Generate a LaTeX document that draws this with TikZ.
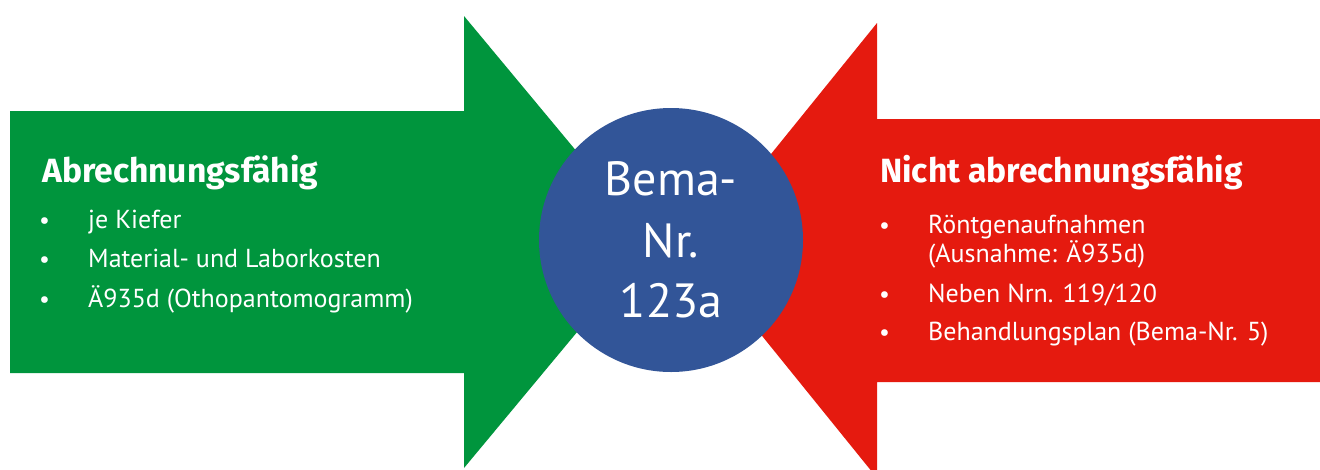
\documentclass[tikz,border=0pt]{standalone}
\usepackage{fontspec}
\setmainfont{PT Sans}
\newfontfamily\titlefont{Fira Sans}
\definecolor{arrgreen}{HTML}{00953D}
\definecolor{arrred}{HTML}{E51A0F}
\definecolor{circblue}{HTML}{325598}
\begin{document}
\begin{tikzpicture}[x=1pt,y=-1pt,
  ttl/.style={anchor=base west,text=white,inner sep=0pt,font=\titlefont\bfseries\fontsize{33.6}{38}\selectfont},
  itm/.style={anchor=base west,text=white,inner sep=0pt,font=\fontsize{26}{31}\selectfont},
  bul/.style={anchor=base west,text=white,inner sep=0pt,font=\fontsize{24}{29}\selectfont},
  ctr/.style={anchor=base,text=white,inner sep=0pt,font=\fontsize{48}{56}\selectfont}]
\useasboundingbox (0,0) rectangle (1320,469);
% arrows
\fill[arrgreen] (10,111) -- (464,111) -- (464,16) -- (652,242) -- (464,468) -- (464,373) -- (10,373) -- cycle;
\fill[arrred] (1320,119) -- (877,119) -- (877,23) -- (693,250.5) -- (877,478) -- (877,382) -- (1320,382) -- cycle;
% circle
\node[circle,fill=circblue,minimum size=264pt,inner sep=0pt] (c) at (671,240) {};
\node[ctr] (c1) at (671,195) {Bema-};
\node[ctr] (c2) at (671,257) {Nr.};
\node[ctr] (c3) at (671,317) {123a};
% left texts
\node[ttl] (lt) at (42,182) {Abrechnungsfähig};
\node[bul] (lb1) at (39,228) {•};
\node[itm] (li1) at (88,228) {je Kiefer};
\node[bul] (lb2) at (39,267) {•};
\node[itm] (li2) at (88,267) {Material- und Laborkosten};
\node[bul] (lb3) at (39,307) {•};
\node[itm] (li3) at (88,307) {Ä935d (Othopantomogramm)};
% right texts
\node[ttl] (rt) at (880,182) {Nicht abrechnungsfähig};
\node[bul] (rb1) at (879,233) {•};
\node[itm] (ri1) at (928,233) {Röntgenaufnahmen};
\node[itm] (ri1b) at (928,262) {(Ausnahme: Ä935d)};
\node[bul] (rb2) at (879,302) {•};
\node[itm] (ri2) at (928,302) {Neben Nrn. 119/120};
\node[bul] (rb3) at (879,340) {•};
\node[itm] (ri3) at (928,340) {Behandlungsplan (Bema-Nr. 5)};
\end{tikzpicture}
\end{document}
